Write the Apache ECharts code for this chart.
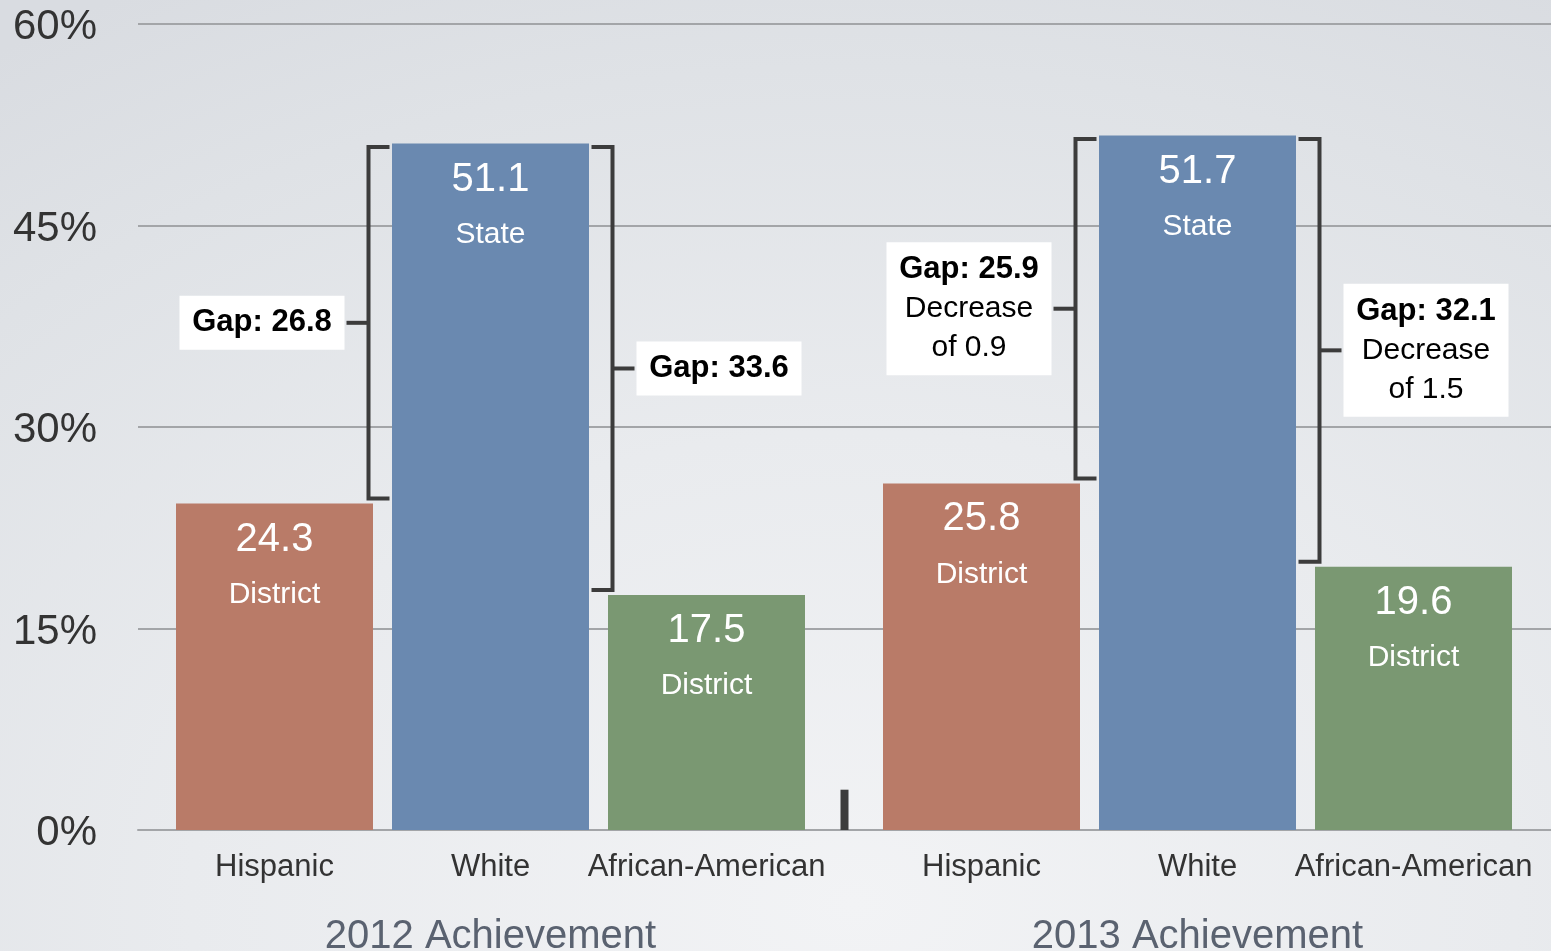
<!DOCTYPE html>
<html>
<head>
<meta charset="utf-8">
<script src="https://cdn.jsdelivr.net/npm/echarts@6/dist/echarts.min.js"></script>
<style>
  html, body { margin: 0; padding: 0; }
  #chart {
    width: 1551px; height: 951px;
    background: radial-gradient(ellipse 95% 110% at 55% 95%, #f2f3f5 0%, #e9ebee 45%, #dfe2e6 80%, #d9dce1 100%);
  }
</style>
</head>
<body>
<div id="chart"></div>
<script>
// ---- data ----
const categories = ['Hispanic', 'White', 'African-American'];
const groupNames = ['2012 Achievement', '2013 Achievement'];
const values2012 = [24.3, 51.1, 17.5];
const values2013 = [25.8, 51.7, 19.6];
const barTypes = ['District', 'State', 'District'];
const gaps2012 = [26.8, 33.6];
const gaps2013 = [25.9, 32.1];
const gapDecrease2012 = [null, null];
const gapDecrease2013 = [0.9, 1.5];
const separatorHeight = [3];
const yTicks = [0, 15, 30, 45, 60];

// ---- style ----
const FONT = "'Helvetica Neue', 'Liberation Sans', Arial, sans-serif";
const barColors = ['#b97b68', '#6a89b0', '#7a9872'];
const BAR_W = 197;
const LINE_C = '#3c3c3c';
const GRID_C = '#a3a5a8';

function barSeries(vals, axisIdx) {
  return {
    type: 'bar',
    xAxisIndex: axisIdx, yAxisIndex: axisIdx,
    barWidth: BAR_W,
    data: vals.map((v, i) => ({ value: v, itemStyle: { color: barColors[i] } })),
    label: {
      show: true, position: 'insideTop', distance: 6,
      formatter: p => '{v|' + p.value + '}\n{t|' + barTypes[p.dataIndex] + '}',
      rich: {
        v: { fontFamily: FONT, fontSize: 40, color: '#fff', lineHeight: 60 },
        t: { fontFamily: FONT, fontSize: 30, color: '#fff', lineHeight: 50 }
      }
    },
    z: 2
  };
}

// bracket data items: [otherIndex, otherValue, whiteValue, gap, decrease]
function bracketSeries(vals, gaps, decs, axisIdx) {
  const whiteIdx = categories.indexOf('White');
  const others = [0, 2];
  return {
    type: 'custom',
    xAxisIndex: axisIdx, yAxisIndex: axisIdx,
    clip: false, z: 5, silent: true,
    data: others.map((o, k) => [o, vals[o], vals[whiteIdx], gaps[k], decs[k] == null ? -1 : decs[k]]),
    renderItem: function (params, api) {
      const other = api.value(0);
      const side = other < whiteIdx ? -1 : 1;
      const wc = api.coord([whiteIdx, api.value(2)]);
      const oc = api.coord([other, api.value(1)]);
      const x = wc[0] + side * (BAR_W / 2 + 23.5);
      const yTop = wc[1] + 3.5;
      const yBot = oc[1] - 5;
      const yMid = (yTop + yBot) / 2;
      const gap = api.value(3);
      const dec = api.value(4);
      const multi = dec >= 0;
      const boxW = 165;
      const boxH = multi ? 133 : 54;
      const boxX = side < 0 ? x - 24 - boxW : x + 24;
      let txt = '{b|Gap: ' + gap.toFixed(1) + '}';
      if (multi) txt += '\n{r|Decrease}\n{r|of ' + dec.toFixed(1) + '}';
      return {
        type: 'group',
        children: [
          { type: 'polyline', shape: { points: [[x - side * 21, yTop], [x, yTop], [x, yBot], [x - side * 21, yBot]] },
            style: { stroke: LINE_C, lineWidth: 4, fill: null, lineJoin: 'miter', lineCap: 'butt' } },
          { type: 'line', shape: { x1: x, y1: yMid, x2: x + side * 22, y2: yMid },
            style: { stroke: LINE_C, lineWidth: 4 } },
          { type: 'rect', shape: { x: boxX, y: yMid - boxH / 2, width: boxW, height: boxH },
            style: { fill: '#ffffff' } },
          { type: 'text', x: boxX + boxW / 2, y: yMid,
            style: {
              text: txt, align: 'center', verticalAlign: 'middle',
              rich: {
                b: { fontFamily: FONT, fontSize: 31, fontWeight: 'bold', color: '#383838', lineHeight: 39 },
                r: { fontFamily: FONT, fontSize: 30, color: '#3a3a3a', lineHeight: 39 }
              }
            } }
        ]
      };
    }
  };
}

function catAxis(gridIdx, name) {
  return {
    type: 'category', gridIndex: gridIdx, data: categories,
    axisLine: { show: false }, axisTick: { show: false },
    axisLabel: { margin: 22, fontFamily: FONT, fontSize: 31, lineHeight: 31, color: '#333', interval: 0 },
    name: name, nameLocation: 'middle', nameGap: 87,
    nameTextStyle: { fontFamily: FONT, fontSize: 40, lineHeight: 40, color: '#5a6270' }
  };
}

function hiddenY(gridIdx) {
  return { type: 'value', gridIndex: gridIdx, min: yTicks[0], max: yTicks[yTicks.length - 1], interval: 15, show: false };
}

const chart = echarts.init(document.getElementById('chart'), null, { renderer: 'canvas' });
chart.setOption({
  backgroundColor: 'transparent',
  animation: false,
  grid: [
    { left: 138, right: 0, top: 24, bottom: 121, outerBoundsMode: 'none', containLabel: false },
    { left: 166.5, width: 648, top: 24, bottom: 121, outerBoundsMode: 'none', containLabel: false },
    { left: 873.5, width: 648, top: 24, bottom: 121, outerBoundsMode: 'none', containLabel: false }
  ],
  xAxis: [
    { type: 'value', gridIndex: 0, min: 0, max: 1,
      axisLabel: { show: false }, axisTick: { show: false }, splitLine: { show: false },
      axisLine: { show: true, lineStyle: { color: GRID_C, width: 2 } } },
    catAxis(1, groupNames[0]),
    catAxis(2, groupNames[1])
  ],
  yAxis: [
    { type: 'value', gridIndex: 0, min: yTicks[0], max: yTicks[yTicks.length - 1], interval: 15,
      axisLine: { show: false }, axisTick: { show: false },
      axisLabel: { margin: 41, formatter: v => '{a|' + v + '%}',
                   rich: { a: { fontFamily: FONT, fontSize: 42, color: '#333', padding: [7, 0, 0, 0] } } },
      splitLine: { show: true, lineStyle: { color: GRID_C, width: 2 } } },
    hiddenY(1),
    hiddenY(2)
  ],
  series: [
    barSeries(values2012, 1),
    barSeries(values2013, 2),
    bracketSeries(values2012, gaps2012, gapDecrease2012, 1),
    bracketSeries(values2013, gaps2013, gapDecrease2013, 2),
    {
      type: 'custom', xAxisIndex: 0, yAxisIndex: 0, clip: false, silent: true,
      data: separatorHeight.map(h => [0, h]),
      renderItem: function (params, api) {
        const cs = params.coordSys;
        const top = api.coord([0, api.value(1)]);
        const bot = api.coord([0, 0]);
        const cx = cs.x + cs.width / 2;
        return { type: 'rect', shape: { x: cx - 4, y: top[1], width: 8, height: bot[1] - top[1] },
                 style: { fill: LINE_C } };
      }
    }
  ]
});
</script>
</body>
</html>
